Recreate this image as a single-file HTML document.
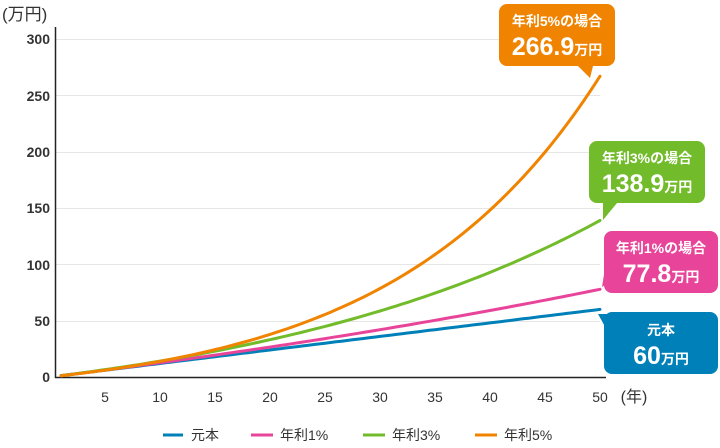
<!DOCTYPE html>
<html><head><meta charset="utf-8"><style>
body{margin:0;background:#fff;width:720px;height:443px;overflow:hidden;font-family:"Liberation Sans","Noto Sans CJK JP",sans-serif}
svg text{font-family:"Liberation Sans","Noto Sans CJK JP",sans-serif}
</style></head><body>
<svg id="s" width="720" height="443" xmlns="http://www.w3.org/2000/svg">
<text x="2" y="20" font-size="17" fill="#333">(万円)</text>
<g stroke="#e6e6e6" stroke-width="1">
<line x1="56" x2="600" y1="39.5" y2="39.5"/><line x1="56" x2="600" y1="95.5" y2="95.5"/>
<line x1="56" x2="600" y1="152.5" y2="152.5"/><line x1="56" x2="600" y1="208.5" y2="208.5"/>
<line x1="56" x2="600" y1="264.5" y2="264.5"/><line x1="56" x2="600" y1="321.5" y2="321.5"/>
</g>
<g font-size="14" font-weight="bold" fill="#333" text-anchor="end">
<text x="50" y="44">300</text><text x="50" y="101">250</text><text x="50" y="157">200</text>
<text x="50" y="213">150</text><text x="50" y="270">100</text><text x="50" y="326">50</text><text x="50" y="382">0</text>
</g>
<line x1="55.5" y1="27" x2="55.5" y2="378" stroke="#222" stroke-width="1.5"/>
<line x1="55" y1="377.5" x2="606" y1="377.5" y2="377.5" stroke="#222" stroke-width="1.5"/>
<g font-size="14" fill="#333" text-anchor="middle">
<text x="105" y="402">5</text><text x="160" y="402">10</text><text x="215" y="402">15</text><text x="270" y="402">20</text><text x="325" y="402">25</text><text x="380" y="402">30</text><text x="435" y="402">35</text><text x="490" y="402">40</text><text x="545" y="402">45</text><text x="600" y="402">50</text>
<text x="634" y="402" font-size="16">(年)</text>
</g>
<g id="lines" fill="none" stroke-width="3" stroke-linecap="round"></g>
<path d="M507 4h100a8 8 0 0 1 8 8v46a8 8 0 0 1-8 8h-14l-3 12-12-12h-71a8 8 0 0 1-8-8v-46a8 8 0 0 1 8-8z" fill="#f08300"/>
<text x="557" y="26" font-size="14" font-weight="bold" fill="#fff" text-anchor="middle">年利5%の場合</text>
<text x="557" y="55" font-weight="bold" fill="#fff" text-anchor="middle"><tspan font-size="25">266.9</tspan><tspan font-size="14">万円</tspan></text>
<path d="M597 141h100a8 8 0 0 1 8 8v46a8 8 0 0 1-8 8h-80l-14 17v-17h-6a8 8 0 0 1-8-8v-46a8 8 0 0 1 8-8z" fill="#72bb2a"/>
<text x="647" y="163" font-size="14" font-weight="bold" fill="#fff" text-anchor="middle">年利3%の場合</text>
<text x="647" y="192" font-weight="bold" fill="#fff" text-anchor="middle"><tspan font-size="25">138.9</tspan><tspan font-size="14">万円</tspan></text>
<path d="M612 231h98a8 8 0 0 1 8 8v46a8 8 0 0 1-8 8h-98a8 8 0 0 1-8-8v-46a8 8 0 0 1 8-8z" fill="#e8449a"/>
<path d="M606 262l-4 25 12-8z" fill="#e8449a"/>
<text x="661" y="253" font-size="14" font-weight="bold" fill="#fff" text-anchor="middle">年利1%の場合</text>
<text x="661" y="282" font-weight="bold" fill="#fff" text-anchor="middle"><tspan font-size="25">77.8</tspan><tspan font-size="14">万円</tspan></text>
<path d="M612 312h98a8 8 0 0 1 8 8v46a8 8 0 0 1-8 8h-98a8 8 0 0 1-8-8v-46a8 8 0 0 1 8-8z" fill="#0080b8"/>
<path d="M598 314l20 0-10 18z" fill="#0080b8"/>
<text x="661" y="335" font-size="14" font-weight="bold" fill="#fff" text-anchor="middle">元本</text>
<text x="661" y="364" font-weight="bold" fill="#fff" text-anchor="middle"><tspan font-size="25">60</tspan><tspan font-size="14">万円</tspan></text>
<g font-size="14" fill="#333">
<line x1="163" x2="183" y1="435" y2="435" stroke="#0080b8" stroke-width="3"/><text x="191" y="440">元本</text>
<line x1="251" x2="273" y1="435" y2="435" stroke="#e8449a" stroke-width="3"/><text x="280" y="440">年利1%</text>
<line x1="363" x2="385" y1="435" y2="435" stroke="#72bb2a" stroke-width="3"/><text x="392" y="440">年利3%</text>
<line x1="475" x2="497" y1="435" y2="435" stroke="#f08300" stroke-width="3"/><text x="504" y="440">年利5%</text>
</g>
</svg>
<script>
var g=document.getElementById('lines');
var series=[[0,60,'#0080b8'],[0.01,77.8,'#e8449a'],[0.03,138.9,'#72bb2a'],[0.055,266.9,'#f08300']];
series.forEach(function(s){
 var r=s[0],fin=s[1];
 function f(n){return r==0?n:(Math.pow(1+r,n)-1)/r;}
 var sc=fin/f(50),pts=[];
 for(var n=1;n<=50;n+=0.5){pts.push((50+11*n).toFixed(1)+','+(377-1.127*sc*f(n)).toFixed(1));}
 var p=document.createElementNS('http://www.w3.org/2000/svg','polyline');
 p.setAttribute('points',pts.join(' '));p.setAttribute('stroke',s[2]);g.appendChild(p);
});
</script>
</body></html>
